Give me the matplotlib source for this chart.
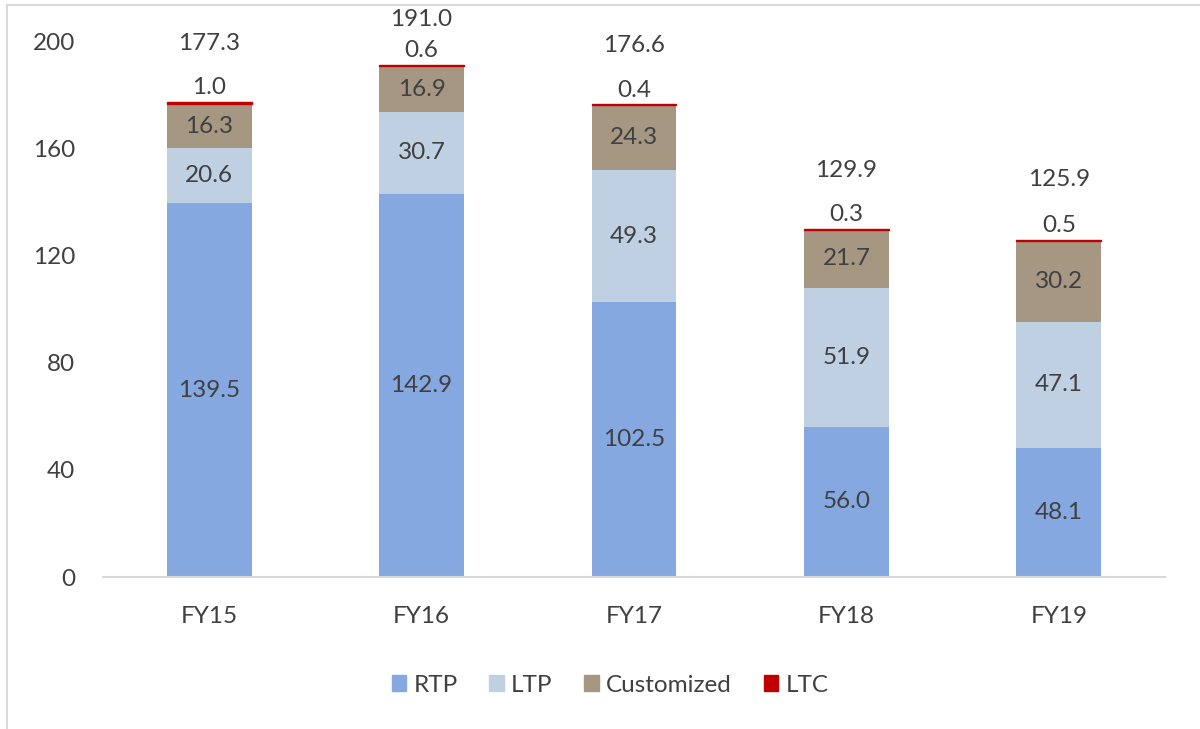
import matplotlib
matplotlib.use("Agg")
import matplotlib.pyplot as plt
from matplotlib.lines import Line2D
from matplotlib.patches import Patch
import numpy as np

plt.rcParams['font.family'] = ['Lato', 'DejaVu Sans']

# dati
anni = ["FY15", "FY16", "FY17", "FY18", "FY19"]
rtp = [139.5, 142.9, 102.5, 56.0, 48.1]
ltp = [20.6, 30.7, 49.3, 51.9, 47.1]
customized = [16.3, 16.9, 24.3, 21.7, 30.2]
ltc = [1.0, 0.6, 0.4, 0.3, 0.5]
totali = [177.3, 191.0, 176.6, 129.9, 125.9]

colori = ["#86A8E0", "#BED0E2", "#A69783", "#C00000"]
testo = "#404040"
fs = 17.5

fig = plt.figure(figsize=(12, 7.29), dpi=100)
ax = fig.add_axes([103/1200, 1 - 577/729, (1165-103)/1200, (577-41)/729])

x = np.arange(len(anni))
w = 0.4
base = np.zeros(len(anni))
serie = [("RTP", rtp), ("LTP", ltp), ("Customized", customized), ("LTC", ltc)]
for (nome, val), c in zip(serie, colori):
    if nome == "LTC":
        # segmento sottile: bordo per renderlo visibile
        ax.bar(x, val, w, bottom=base, color=c, edgecolor=c, linewidth=1, label=nome, zorder=2)
    else:
        ax.bar(x, val, w, bottom=base, color=c, label=nome, zorder=2)
        for xi, b, v in zip(x, base, val):
            ax.text(xi, b + v / 2, f"{v:.1f}", ha="center", va="center",
                    fontsize=fs, color=testo)
    base = base + np.array(val)

# etichette LTC e totali sopra le barre
off_tot = [42, 33, 42, 42, 43]
for xi, top, v, t, o in zip(x, base, ltc, totali, off_tot):
    ax.annotate(f"{v:.1f}", (xi, top), xytext=(0, 10), textcoords="offset points",
                ha="center", va="center", fontsize=fs, color=testo, annotation_clip=False)
    ax.annotate(f"{t:.1f}", (xi, top), xytext=(0, o), textcoords="offset points",
                ha="center", va="center", fontsize=fs, color=testo, annotation_clip=False)

ax.set_xlim(-0.5, 4.5)
ax.set_ylim(0, 200)
ax.set_yticks([0, 40, 80, 120, 160, 200])
ax.set_xticks(x)
ax.set_xticklabels(anni)
ax.tick_params(length=0, labelsize=fs, labelcolor=testo)
ax.tick_params(axis="y", pad=20)
ax.tick_params(axis="x", pad=21)
for s in ["top", "right", "left"]:
    ax.spines[s].set_visible(False)
ax.spines["bottom"].set_color("#D9D9D9")
ax.spines["bottom"].set_linewidth(1.5)

handles = [Patch(color=c, label=n) for (n, _), c in zip(serie, colori)]
fig.legend(handles=handles, loc="center", bbox_to_anchor=(610/1200, 1 - 685/729),
           ncol=4, frameon=False, fontsize=fs, labelcolor=testo,
           handlelength=0.6, handleheight=0.6, handletextpad=0.3, columnspacing=1.3)

# bordo
fig.add_artist(Line2D([7/1200, 7/1200], [0, 1 - 5/729], color="#D9D9D9", lw=1.5))
fig.add_artist(Line2D([7/1200, 1], [1 - 5/729, 1 - 5/729], color="#D9D9D9", lw=1.5))

fig.savefig("out.png")
